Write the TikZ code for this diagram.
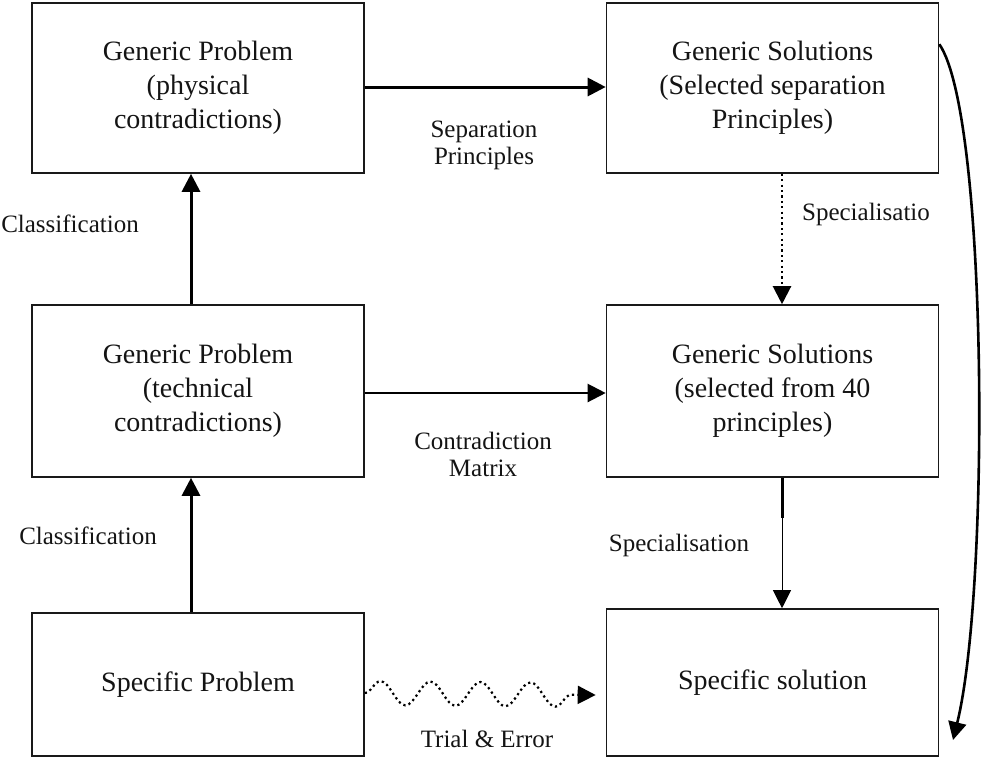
\documentclass[tikz,border=0pt]{standalone}
\usepackage{fontspec}
\setmainfont{Liberation Serif}
\usetikzlibrary{arrows.meta,decorations.pathmorphing}
\begin{document}
\begin{tikzpicture}[x=1pt,y=-1pt,
  box/.style={draw=black!90, line width=1.6pt, minimum width=332pt, align=center,
    inner sep=0pt, text=black!92, font=\fontsize{28}{34}\selectfont},
  lbl/.style={align=center, inner sep=0pt, text=black!92, font=\fontsize{25}{27}\selectfont},
  tip/.style={-{Triangle[length=18pt,width=18pt]}},
  heavy/.style={line width=3pt},
  dotline/.style={line width=2.2pt, dash pattern=on 2.2pt off 3.2pt}]
\useasboundingbox (0,0) rectangle (985,758);

% boxes
\node[box, minimum height=170pt] (tl) at (198,88) {Generic Problem\\(physical\\contradictions)};
\node[box, minimum height=170pt] (tr) at (772.5,88) {Generic Solutions\\(Selected separation\\Principles)};
\node[box, minimum height=172pt] (ml) at (198,391) {Generic Problem\\(technical\\contradictions)};
\node[box, minimum height=172pt] (mr) at (772.5,391) {Generic Solutions\\(selected from 40\\principles)};
\node[box, minimum height=143pt] (bl) at (198,684.5) {Specific Problem};
\node[box, minimum height=147pt] (br) at (772.5,682.5) {Specific solution};

% free end points
\coordinate (thickend) at (782,518);
\coordinate (curveend) at (953,740);

% classification arrows
\draw[tip, heavy] ([xshift=-7pt]ml.north) -- ([xshift=-7pt]tl.south);
\draw[tip, heavy] ([xshift=-7pt]bl.north) -- ([xshift=-7pt]ml.south);

% horizontal arrows
\draw[tip, heavy] ([yshift=1pt]tl.east) -- ([yshift=1pt]tr.west);
\draw[tip, line width=2.2pt] ([yshift=-2pt]ml.east) -- ([yshift=-2pt]mr.west);

% specialisation arrows
\draw[tip, dotline] ([xshift=9.5pt]tr.south) -- ([xshift=9.5pt]mr.north);
\draw[tip, line width=0.9pt] ([xshift=9.5pt]mr.south) -- ([xshift=9.5pt]br.north);
\draw[line width=3pt] ([xshift=9.5pt]mr.south) -- (thickend);

% long curved arrow on the right
\draw[tip, line width=2.6pt] ([yshift=-42pt]tr.north east)
  .. controls (988,115) and (990,590) .. (curveend);

% trial and error
\draw[tip, dotline, decorate,
  decoration={snake, amplitude=12pt, segment length=50pt, post length=12pt}]
  ([yshift=-8.5pt]bl.east) -- ([xshift=-10pt,yshift=-12.5pt]br.west);

% labels
\node[lbl] (lsep) at (484,145) {Separation\\Principles};
\node[lbl] (lcon) at (483,454) {Contradiction\\Matrix};
\node[lbl] (lcl1) at (70,224) {Classification};
\node[lbl] (lcl2) at (88,536) {Classification};
\node[lbl] (lsp1) at (866,214) {Specialisatio};
\node[lbl] (lsp2) at (679,545) {Specialisation};
\node[lbl] (ltr) at (487,739) {Trial \& Error};
\end{tikzpicture}
\end{document}
